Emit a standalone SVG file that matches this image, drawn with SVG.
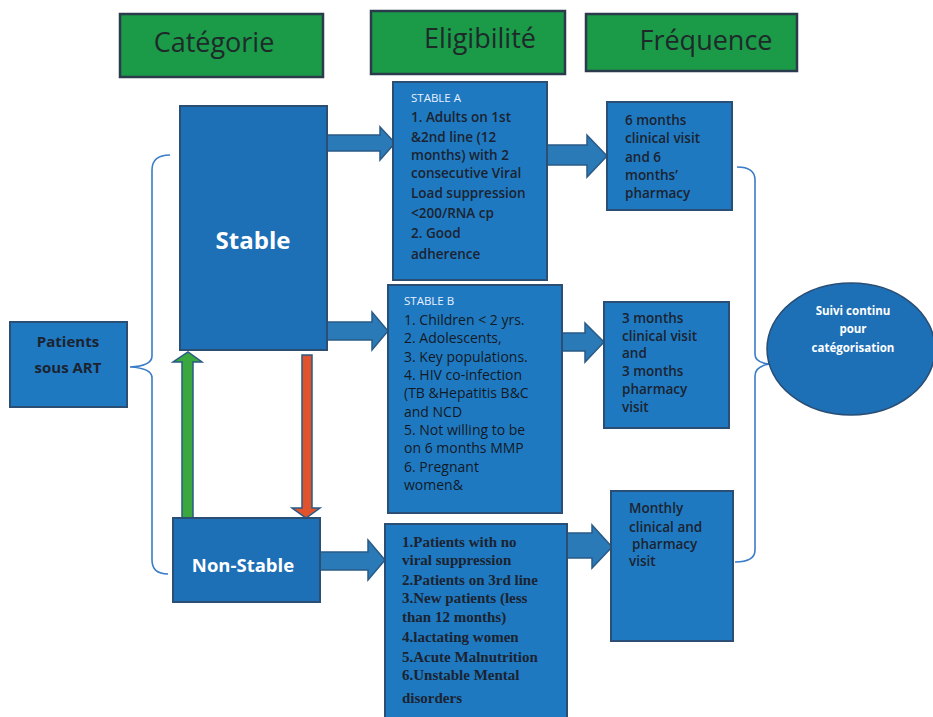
<svg xmlns="http://www.w3.org/2000/svg" width="933" height="717" viewBox="0 0 933 717">
<style>
.hdr{fill:#1b9a48;stroke:#2a3b4c;stroke-width:2.5}
.hdrt{font-family:"Open Sans",sans-serif;font-size:27px;fill:#1e2a2a;text-anchor:middle}
.box{fill:#1f79c1;stroke:#2a4e74;stroke-width:2}
.dark{fill:#1d6fb6;stroke:#2a4e74;stroke-width:2}
.wt{font-family:"Open Sans",sans-serif;font-weight:700;fill:#ffffff;text-anchor:middle}
.bt{font-family:"Open Sans",sans-serif;font-size:13.5px;font-weight:600;fill:#1b2330}
.ft{font-family:"Open Sans",sans-serif;font-size:13.5px;font-weight:600;fill:#1b2330}
.rt{font-family:"Open Sans",sans-serif;font-size:14px;font-weight:500;fill:#121a26}
.st{font-family:"Open Sans",sans-serif;font-size:11.5px;fill:#e8f0ff}
.tt{font-family:"Liberation Serif",serif;font-size:15px;font-weight:700;fill:#1b2330}
.arr{fill:#2a7ab8;stroke:#2a5a86;stroke-width:1.5}
.brace{fill:none;stroke:#3a7cc8;stroke-width:1.6}
</style>
<rect width="933" height="717" fill="#ffffff"/>

<g id="hdr-categorie"><rect class="hdr" x="120" y="14" width="203" height="63"/><text class="hdrt" x="214" y="52">Catégorie</text></g>
<g id="hdr-eligibilite"><rect class="hdr" x="371" y="11" width="194" height="63"/><text class="hdrt" x="480" y="48">Eligibilité</text></g>
<g id="hdr-frequence"><rect class="hdr" x="586" y="14" width="211" height="57"/><text class="hdrt" x="706" y="50">Fréquence</text></g>

<g id="connectors">
  <path class="brace" d="M170,155 Q152,155 152,170 L152,356 Q152,366 130,367 Q152,368 152,378 L152,560 Q152,574 168,574"/>
  <path class="brace" d="M737,167 Q755,167 755,180 L755,354 Q755,363 770,364 Q755,366 755,376 L755,550 Q755,562 735,562"/>
  <path class="arr" d="M327,135 L380,135 L380,127 L395,143 L380,160 L380,151 L327,151 Z"/>
  <path class="arr" d="M327,322 L372,322 L372,312 L388,331 L372,350 L372,340 L327,340 Z"/>
  <path class="arr" d="M320,552 L368,552 L368,540 L385,560 L368,580 L368,570 L320,570 Z"/>
  <path class="arr" d="M547,145 L587,145 L587,135 L607,156 L587,177 L587,165 L547,165 Z"/>
  <path class="arr" d="M562,333 L585,333 L585,323 L604,342 L585,362 L585,351 L562,351 Z"/>
  <path class="arr" d="M567,533 L592,533 L592,525 L612,547 L592,568 L592,558 L567,558 Z"/>
  <path d="M182,518 L182,362 L173,362 L188,352 L202,362 L193,362 L193,518 Z" fill="#3aa83e" stroke="#2a5a86" stroke-width="1.5"/>
  <path d="M302,355 L312,355 L312,508 L320,508 L306,518 L292,508 L302,508 Z" fill="#e0532c" stroke="#2a5a86" stroke-width="1.5"/>
</g>

<g id="patients"><rect class="box" x="10" y="322" width="117" height="85"/>
<text x="68" y="347" text-anchor="middle" font-family="Open Sans,sans-serif" font-size="15" font-weight="700" fill="#1b2330">Patients</text>
<text x="68" y="373" text-anchor="middle" font-family="Open Sans,sans-serif" font-size="15" font-weight="700" fill="#1b2330">sous ART</text></g>

<g id="stable"><rect class="dark" x="180" y="106" width="147" height="244"/><text class="wt" x="253" y="249" font-size="24">Stable</text></g>
<g id="nonstable"><rect class="dark" x="173" y="518" width="147" height="84"/><text class="wt" x="243" y="572" font-size="18.5">Non-Stable</text></g>

<g id="stableA"><rect class="box" x="393" y="82" width="154" height="198"/>
<text class="st" x="411" y="102">STABLE A</text>
<text class="bt"><tspan x="411" y="122">1. Adults on 1st</tspan><tspan x="411" y="142">&amp;2nd line (12</tspan><tspan x="411" y="160">months) with 2</tspan><tspan x="411" y="178">consecutive Viral</tspan><tspan x="411" y="198">Load suppression</tspan><tspan x="411" y="218">&lt;200/RNA cp</tspan><tspan x="411" y="238">2. Good</tspan><tspan x="411" y="259">adherence</tspan></text></g>

<g id="stableB"><rect class="box" x="388" y="285" width="174" height="228"/>
<text class="st" x="404" y="305">STABLE B</text>
<text class="rt"><tspan x="404" y="325">1. Children &lt; 2 yrs.</tspan><tspan x="404" y="343">2. Adolescents,</tspan><tspan x="404" y="362">3. Key populations.</tspan><tspan x="404" y="380">4. HIV co-infection</tspan><tspan x="404" y="398">(TB &amp;Hepatitis B&amp;C</tspan><tspan x="404" y="417">and NCD</tspan><tspan x="404" y="435">5. Not willing to be</tspan><tspan x="404" y="453">on 6 months MMP</tspan><tspan x="404" y="472">6. Pregnant</tspan><tspan x="404" y="490">women&amp;</tspan></text></g>

<g id="nonstable-elig"><rect class="box" x="385" y="524" width="182" height="200"/>
<text class="tt"><tspan x="402" y="547">1.Patients with no</tspan><tspan x="402" y="565">viral suppression</tspan><tspan x="402" y="585">2.Patients on 3rd line</tspan><tspan x="402" y="603">3.New patients (less</tspan><tspan x="402" y="622">than 12 months)</tspan><tspan x="402" y="642">4.lactating women</tspan><tspan x="402" y="662">5.Acute Malnutrition</tspan><tspan x="402" y="680">6.Unstable Mental</tspan><tspan x="402" y="703">disorders</tspan></text></g>

<g id="freq1"><rect class="box" x="607" y="102" width="125" height="108"/>
<text class="ft"><tspan x="625" y="125">6 months</tspan><tspan x="625" y="143">clinical visit</tspan><tspan x="625" y="162">and 6</tspan><tspan x="625" y="180">months’</tspan><tspan x="625" y="198">pharmacy</tspan></text></g>

<g id="freq2"><rect class="box" x="604" y="302" width="125" height="126"/>
<text class="ft"><tspan x="622" y="323">3 months</tspan><tspan x="622" y="341">clinical visit</tspan><tspan x="622" y="358">and</tspan><tspan x="622" y="376">3 months</tspan><tspan x="622" y="394">pharmacy</tspan><tspan x="622" y="412">visit</tspan></text></g>

<g id="freq3"><rect class="box" x="611" y="491" width="122" height="150"/>
<text class="ft"><tspan x="629" y="513">Monthly</tspan><tspan x="629" y="532">clinical and</tspan><tspan x="632" y="549">pharmacy</tspan><tspan x="629" y="566">visit</tspan></text></g>

<g id="suivi"><ellipse cx="851" cy="349" rx="84" ry="66" fill="#1d6fb6" stroke="#2a4e74" stroke-width="1.5"/>
<text class="wt" font-size="11.5"><tspan x="853" y="315">Suivi continu</tspan><tspan x="853" y="333">pour</tspan><tspan x="853" y="352">catégorisation</tspan></text></g>
</svg>
